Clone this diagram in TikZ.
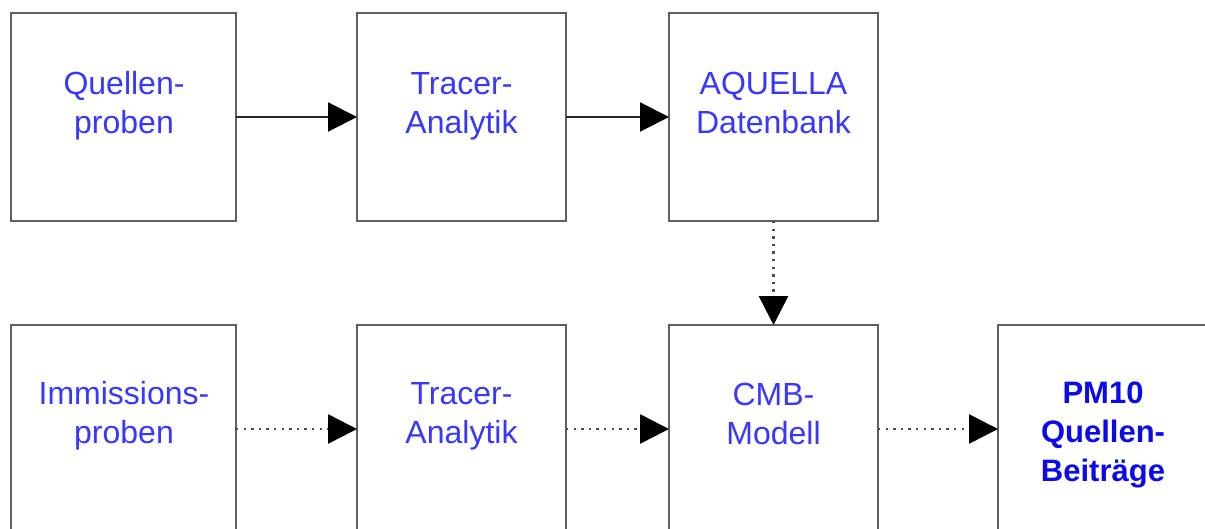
\documentclass[tikz,border=0pt]{standalone}
\usepackage{fontspec}
\setmainfont{Liberation Sans}
\usetikzlibrary{arrows.meta}
\definecolor{lbltext}{RGB}{55,55,255}
\definecolor{lblbold}{RGB}{10,10,235}
\definecolor{boxline}{RGB}{95,95,95}
\tikzset{
  stagebox/.style={draw=boxline, line width=1.6pt, fill=white, minimum width=#1, minimum height=208pt, inner sep=0pt, outer sep=0pt},
  stagebox/.default=225pt,
  lbl/.style={text=lbltext, align=center, font=\fontsize{32}{39}\selectfont, inner sep=0pt},
  lblb/.style={text=lblbold, align=center, font=\fontsize{31}{39}\selectfont\bfseries, inner sep=0pt},
  tip/.style={-{Triangle[length=29pt,width=29pt,color=black,fill=black]}},
  flow/.style={draw=black!85, line width=2.2pt, tip},
  flowdot/.style={draw=black!70, line width=2.6pt, dash pattern=on 2.4pt off 5.2pt, tip}
}
\begin{document}
\begin{tikzpicture}[x=1pt,y=-1pt]
\useasboundingbox (0,0) rectangle (1205,528);
\clip (0,0) rectangle (1205,528);
\fill[white] (0,0) rectangle (1205,528);

% upper row
\node[stagebox=225pt] (qp) at (123.5,117) {};
\node[stagebox=209pt] (ta1) at (461.5,117) {};
\node[stagebox=209pt] (db) at (773.5,117) {};
\node[lbl] (qpt) at (124,106) {\strut Quellen-\\\strut proben};
\node[lbl] (ta1t) at (461.5,106) {\strut Tracer-\\\strut Analytik};
\node[lbl] (dbt) at (773.5,106) {\strut AQUELLA\\\strut Datenbank};

% lower row
\node[stagebox=225pt] (ip) at (123.5,429) {};
\node[stagebox=209pt] (ta2) at (461.5,429) {};
\node[stagebox=209pt] (cmb) at (773.5,429) {};
\node[stagebox=209pt] (pm) at (1102.5,429) {};
\node[lbl] (ipt) at (124,416) {\strut Immissions-\\\strut proben};
\node[lbl] (ta2t) at (461.5,416) {\strut Tracer-\\\strut Analytik};
\node[lbl] (cmbt) at (773.5,417.5) {\strut CMB-\\\strut Modell};
\node[lblb] (pmt) at (1103,435) {\strut PM10\\\strut Quellen-\\\strut Beiträge};

% connectors
\draw[flow] (qp.east) -- (ta1.west);
\draw[flow] (ta1.east) -- (db.west);
\draw[flowdot] (db.south) -- (cmb.north);
\draw[flowdot] (ip.east) -- (ta2.west);
\draw[flowdot] (ta2.east) -- (cmb.west);
\draw[flowdot] (cmb.east) -- (pm.west);
\end{tikzpicture}
\end{document}
